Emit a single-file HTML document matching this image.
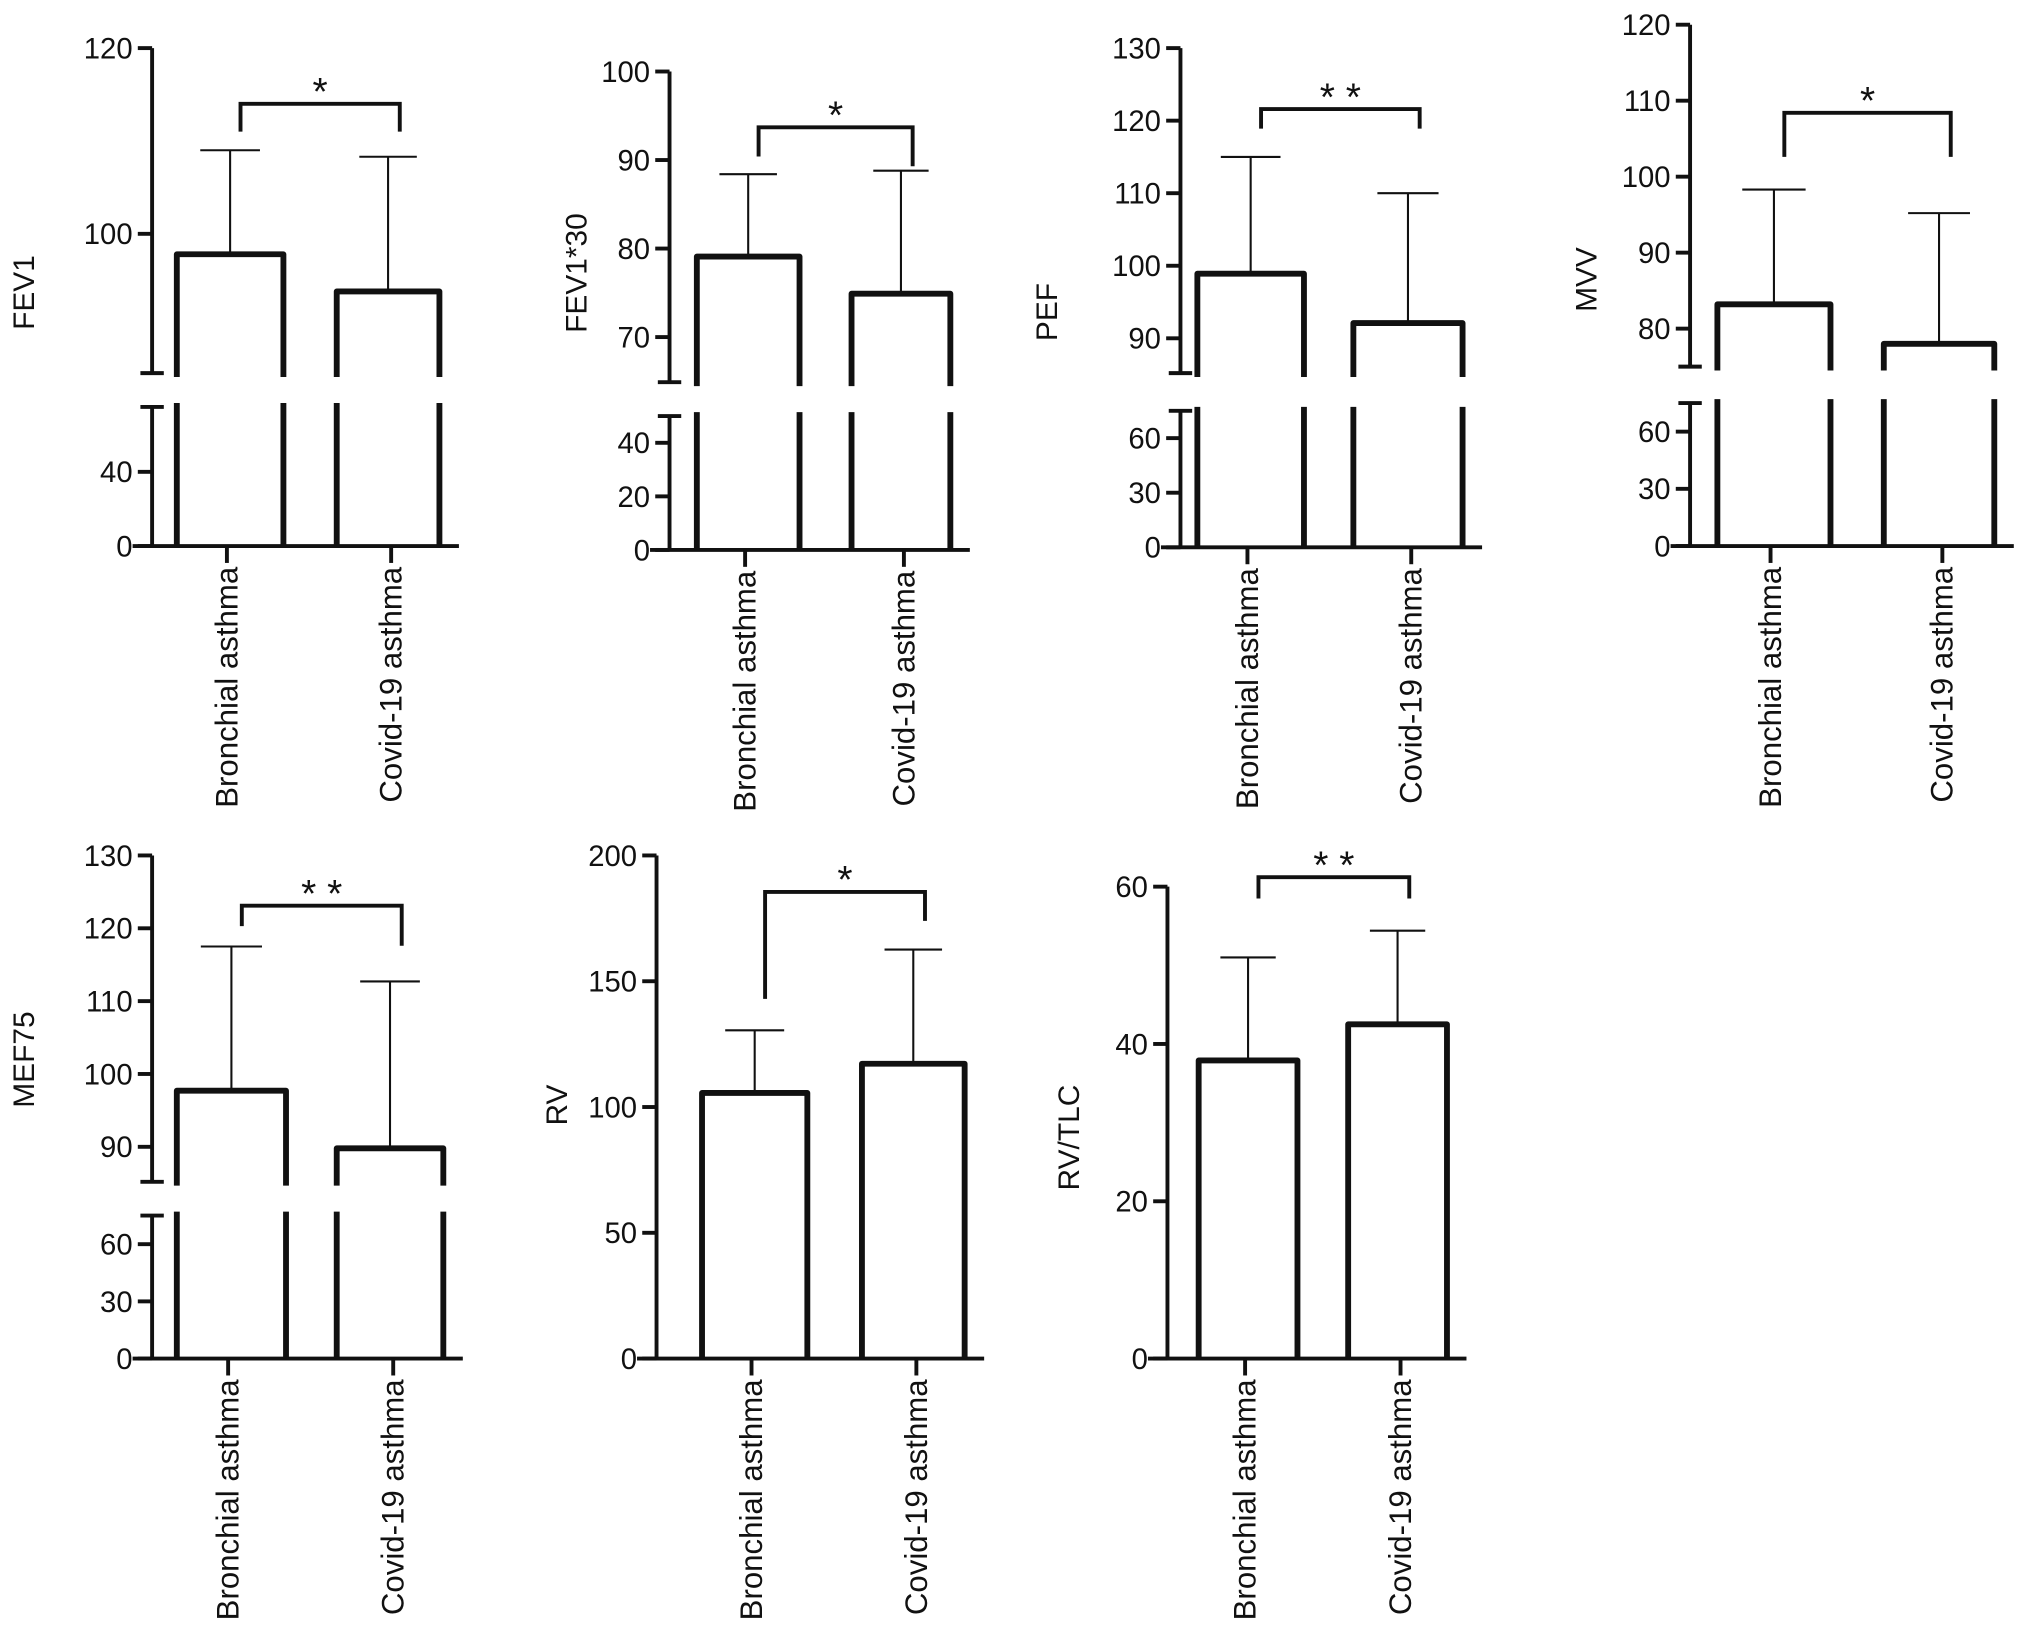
<!DOCTYPE html>
<html><head><meta charset="utf-8"><style>
html,body{margin:0;padding:0;background:#fff;}
svg{display:block;}
text{font-family:"Liberation Sans",Arial,sans-serif;fill:#111;}
</style></head><body>
<svg id="fig" width="2032" height="1629" viewBox="0 0 1563 1253" preserveAspectRatio="none" xmlns="http://www.w3.org/2000/svg"></svg>
<script>
const categories = ["Bronchial asthma","Covid-19 asthma"];
const panelNames = ["FEV1","FEV1*30","PEF","MVV","MEF75","RV","RV/TLC"];
const meanValues = [[97.8,93.8],[79.1,74.9],[98.9,92.1],[83.2,78.0],[97.7,89.8],[105.6,117.2],[37.9,42.5]];
const sdTopValues = [[109,108.3],[88.4,88.8],[115,110],[98.3,95.2],[117.5,112.7],[130.5,162.6],[51,54.4]];
const sigLabels = ["*","*","* *","*","* *","*","* *"];
const upperTicks = [[100,120],[70,80,90,100],[90,100,110,120,130],[80,90,100,110,120],[90,100,110,120,130],[0,50,100,150,200],[0,20,40,60]];
const lowerTicks = [[0,40],[0,20,40],[0,30,60],[0,30,60],[0,30,60],[],[]];
const bracketValues = [[114,111,111],[93.7,90.4,89.3],[121.6,118.9,118.9],[108.4,102.6,102.6],[123.1,120.3,117.6],[185.5,143,174],[61.2,58.5,58.5]];

// layout (pixel geometry, not data)
const layout = [
 {ax:117,uTop:37,uBot:287,uMin:85,uMax:120,lTop:313,lBot:420,lMin:0,lMax:75,bars:[[136,218],[259,338]],lab:[18,225]},
 {ax:515,uTop:55,uBot:294,uMin:64.9,uMax:100,lTop:320,lBot:423,lMin:0,lMax:50,bars:[[536,615],[655,731]],lab:[443,210]},
 {ax:908,uTop:37,uBot:287,uMin:85.2,uMax:130,lTop:316,lBot:421,lMin:0,lMax:75,bars:[[921,1003],[1041,1125]],lab:[805,240]},
 {ax:1300,uTop:19,uBot:282,uMin:75,uMax:120,lTop:310,lBot:420,lMin:0,lMax:75,bars:[[1321,1408],[1449,1534]],lab:[1220,215]},
 {ax:117,uTop:658,uBot:909,uMin:85.2,uMax:130,lTop:935,lBot:1045,lMin:0,lMax:75,bars:[[136,220],[259,341]],lab:[18,815]},
 {ax:505,uTop:658,uBot:1045,uMin:0,uMax:200,bars:[[540,621],[663,742]],lab:[428,850]},
 {ax:898,uTop:682,uBot:1045,uMin:0,uMax:60,bars:[[922,998],[1037,1113]],lab:[822,875]}
];
const svg=document.getElementById('fig');
const NS='http://www.w3.org/2000/svg';
function mk(tag,attrs,parent){const e=document.createElementNS(NS,tag);for(const k in attrs)e.setAttribute(k,attrs[k]);parent.appendChild(e);return e;}
function line(p,x1,y1,x2,y2,w){return mk('line',{x1,y1,x2,y2,stroke:'#111','stroke-width':w,'stroke-linecap':'butt'},p);}

layout.forEach((L,i)=>{
  const g=mk('g',{},svg);
  
  
  const brk = L.lTop!==undefined;
  const yU=v=>L.uBot-(v-L.uMin)/(L.uMax-L.uMin)*(L.uBot-L.uTop);
  const yL=v=>L.lBot-(v-L.lMin)/(L.lMax-L.lMin)*(L.lBot-L.lTop);
  const y=v=>(!brk||v>=L.uMin)?yU(v):yL(v);
  const base = brk?L.lBot:L.uBot;
  const ax=mk('g',{},g);
  
  
  line(ax,L.ax,L.uTop,L.ax,brk?L.uBot:base,3);
  if(brk){
    line(ax,L.ax,L.lTop,L.ax,L.lBot,3);
    line(ax,L.ax-9,L.uBot,L.ax+9,L.uBot,3);
    line(ax,L.ax-9,L.lTop,L.ax+9,L.lTop,3);
  }
  upperTicks[i].forEach(t=>{
    const yy=yU(t);
    line(ax,L.ax-11,yy,L.ax,yy,3);
    const tx=mk('text',{x:L.ax-15,y:yy+8,'font-size':22.5,'text-anchor':'end'},ax);
    tx.textContent=t;
    
    
  });
  if(brk) lowerTicks[i].forEach(t=>{
    const yy=yL(t);
    line(ax,L.ax-11,yy,L.ax,yy,3);
    const tx=mk('text',{x:L.ax-15,y:yy+8,'font-size':22.5,'text-anchor':'end'},ax);
    tx.textContent=t;
    
    
  });
  const yl=mk('text',{x:L.lab[0],y:L.lab[1],'font-size':23,'text-anchor':'middle',transform:`rotate(-90 ${L.lab[0]} ${L.lab[1]})`,dy:8},g);
  yl.textContent=panelNames[i];
  
  
  const xEnd=L.bars[1][1]+15;
  line(g,L.ax-15,base,xEnd,base,3);
  L.bars.forEach((b,j)=>{
    const bg=mk('g',{},g);
    
    
    const top=y(meanValues[i][j]);
    const cx=(b[0]+b[1])/2;
    const et=y(sdTopValues[i][j]);
    line(bg,cx,top,cx,et,1.6);
    line(bg,cx-(b[1]-b[0])*0.28,et,cx+(b[1]-b[0])*0.28,et,1.6);
    if(brk){
      mk('path',{d:`M${b[0]},${L.uBot+3} L${b[0]},${top} L${b[1]},${top} L${b[1]},${L.uBot+3}`,fill:'none',stroke:'#111','stroke-width':4.5,'stroke-linejoin':'round'},bg);
      line(bg,b[0],L.lTop-3,b[0],base,4.5);
      line(bg,b[1],L.lTop-3,b[1],base,4.5);
    } else {
      mk('path',{d:`M${b[0]},${base} L${b[0]},${top} L${b[1]},${top} L${b[1]},${base}`,fill:'none',stroke:'#111','stroke-width':4.5,'stroke-linejoin':'round'},bg);
    }
    const tickX=cx+(j===0?-(b[1]-b[0])*0.03:(b[1]-b[0])*0.03);
    line(g,tickX,base,tickX,base+13,3);
    const lx=tickX, ly=base+16;
    const tl=mk('text',{x:lx,y:ly,'font-size':24,'text-anchor':'end',transform:`rotate(-90 ${lx} ${ly})`,dy:8},g);
    tl.textContent=categories[j];
    
    
  });
  const bv=bracketValues[i];
  const c0=(L.bars[0][0]+L.bars[0][1])/2+8, c1=(L.bars[1][0]+L.bars[1][1])/2+9;
  const by=y(bv[0]);
  const br=mk('path',{d:`M${c0},${y(bv[1])} L${c0},${by} L${c1},${by} L${c1},${y(bv[2])}`,fill:'none',stroke:'#111','stroke-width':3},g);
  
  
  const st=mk('text',{x:(c0+c1)/2,y:by+1,'font-size':30,'text-anchor':'middle'},g);
  st.textContent=sigLabels[i];
  
  
});
</script>
</body></html>
